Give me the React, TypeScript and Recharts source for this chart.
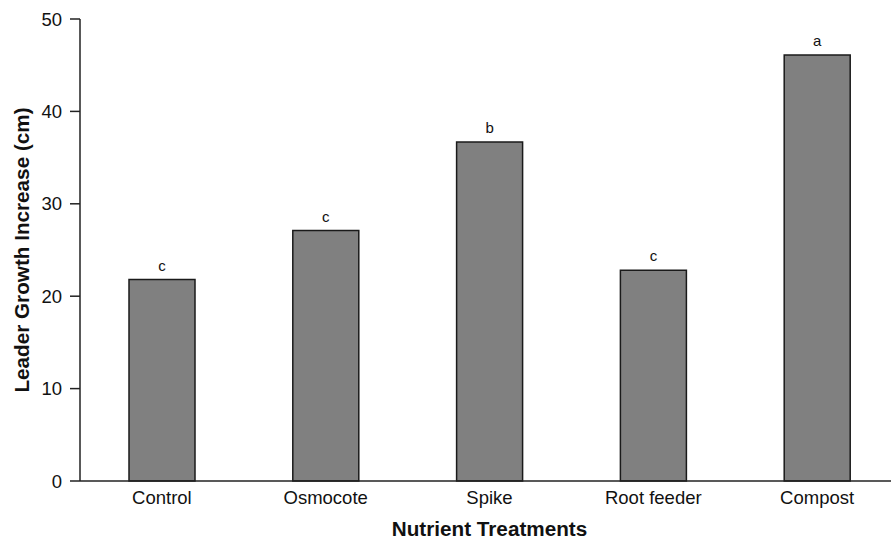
import React from 'react';
import { BarChart, Bar, XAxis, YAxis, LabelList } from 'recharts';

const categories = ['Control', 'Osmocote', 'Spike', 'Root feeder', 'Compost'];
const growth = [21.8, 27.1, 36.7, 22.8, 46.1];
const letters = ['c', 'c', 'b', 'c', 'a'];
const yTicks = [0, 10, 20, 30, 40, 50];

const data = categories.map((name, i) => ({ name, growth: growth[i], letter: letters[i] }));

const FONT = '"Liberation Sans", Arial, Helvetica, sans-serif';

const YTitle = (props: any) => {
  const vb = props.viewBox || {};
  const cx = 21;
  const cy = vb.y + vb.height / 2;
  return (
    <text
      x={cx}
      y={cy}
      transform={`rotate(-90 ${cx} ${cy})`}
      textAnchor="middle"
      dominantBaseline="central"
      fontFamily={FONT}
      fontWeight="bold"
      fontSize={20.7}
      fill="#111"
    >
      Leader Growth Increase (cm)
    </text>
  );
};

const XTitle = (props: any) => {
  const vb = props.viewBox || {};
  const cx = vb.x + vb.width / 2;
  return (
    <text
      x={cx}
      y={536}
      textAnchor="middle"
      fontFamily={FONT}
      fontWeight="bold"
      fontSize={20.7}
      fill="#111"
    >
      Nutrient Treatments
    </text>
  );
};

export default function App() {
  return (
    <div
      style={{
        position: 'absolute',
        left: 0,
        top: 0,
        width: 891,
        height: 540,
        overflow: 'hidden',
        background: '#fff',
      }}
    >
      <BarChart
        width={899}
        height={540}
        data={data}
        margin={{ top: 19, right: 0, left: 0, bottom: 0 }}
        barCategoryGap="0%"
      >
        <XAxis
          dataKey="name"
          height={59}
          tickLine={false}
          tickMargin={4}
          axisLine={{ stroke: '#222', strokeWidth: 1.5 }}
          tick={{ fill: '#111', fontSize: 18.5, fontFamily: FONT }}
          label={{ content: XTitle }}
          interval={0}
        />
        <YAxis
          width={80}
          domain={[0, 50]}
          ticks={yTicks}
          tickSize={10}
          tickMargin={8}
          axisLine={{ stroke: '#222', strokeWidth: 1.5 }}
          tickLine={{ stroke: '#222', strokeWidth: 1.5 }}
          tick={{ fill: '#111', fontSize: 18.5, fontFamily: FONT }}
          label={{ content: YTitle }}
        />
        <Bar
          dataKey="growth"
          barSize={66}
          fill="#808080"
          stroke="#1a1a1a"
          strokeWidth={1.5}
          isAnimationActive={false}
        >
          <LabelList
            dataKey="letter"
            position="top"
            offset={9}
            style={{ fill: '#111', fontSize: 15, fontFamily: FONT }}
          />
        </Bar>
      </BarChart>
    </div>
  );
}
